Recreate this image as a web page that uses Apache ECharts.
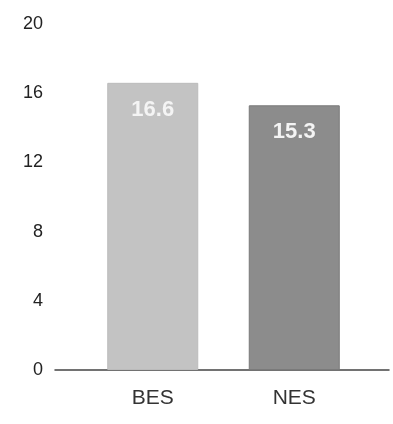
<!DOCTYPE html>
<html><head><meta charset="utf-8">
<script src="https://cdn.jsdelivr.net/npm/echarts@6/dist/echarts.min.js"></script>
<style>html,body{margin:0;padding:0;background:#fff}#c{width:393px;height:424px}</style>
</head><body><div id="c"></div>
<script>
const categories = ['BES', 'NES'];
const values = [16.6, 15.3];
const barColors = ['#c3c3c3', '#8c8c8c'];
const yTicks = [0, 4, 8, 12, 16, 20];

const chart = echarts.init(document.getElementById('c'), null, {renderer: 'canvas'});
const font = '"Liberation Sans", Arial, sans-serif';
chart.setOption({
  backgroundColor: '#ffffff',
  animation: false,
  grid: [
    {left: 82, right: 28, top: 24, bottom: 54},
    {left: 55, right: 4, top: 24, bottom: 54}
  ],
  xAxis: [
    {type: 'category', gridIndex: 0, data: categories,
     axisLine: {show: false}, axisTick: {show: false},
     axisLabel: {color: '#333', fontSize: 21, fontFamily: font, margin: 18}},
    {type: 'category', gridIndex: 1, data: [''],
     axisLine: {show: true, lineStyle: {color: '#444', width: 1.5}},
     axisTick: {show: false}, axisLabel: {show: false}}
  ],
  yAxis: [
    {type: 'value', gridIndex: 0, min: yTicks[0], max: yTicks[yTicks.length - 1], interval: 4,
     show: false, splitLine: {show: false}},
    {type: 'value', gridIndex: 1, min: yTicks[0], max: yTicks[yTicks.length - 1], interval: 4,
     axisLine: {show: false}, axisTick: {show: false}, splitLine: {show: false},
     axisLabel: {color: '#222', fontSize: 18, fontFamily: font, margin: 12}}
  ],
  series: [{
    type: 'bar', xAxisIndex: 0, yAxisIndex: 0,
    barWidth: 91,
    data: values.map((v, i) => ({value: v, itemStyle: {color: barColors[i], borderColor: i === 1 ? '#7a7a7a' : '#bbbbbb', borderWidth: 1}})),
    label: {show: true, position: 'insideTop', distance: 16, color: '#f4f4f4',
      fontSize: 22, fontWeight: 'bold', fontFamily: font,
      formatter: p => p.value.toFixed(1)}
  }]
});
</script></body></html>
